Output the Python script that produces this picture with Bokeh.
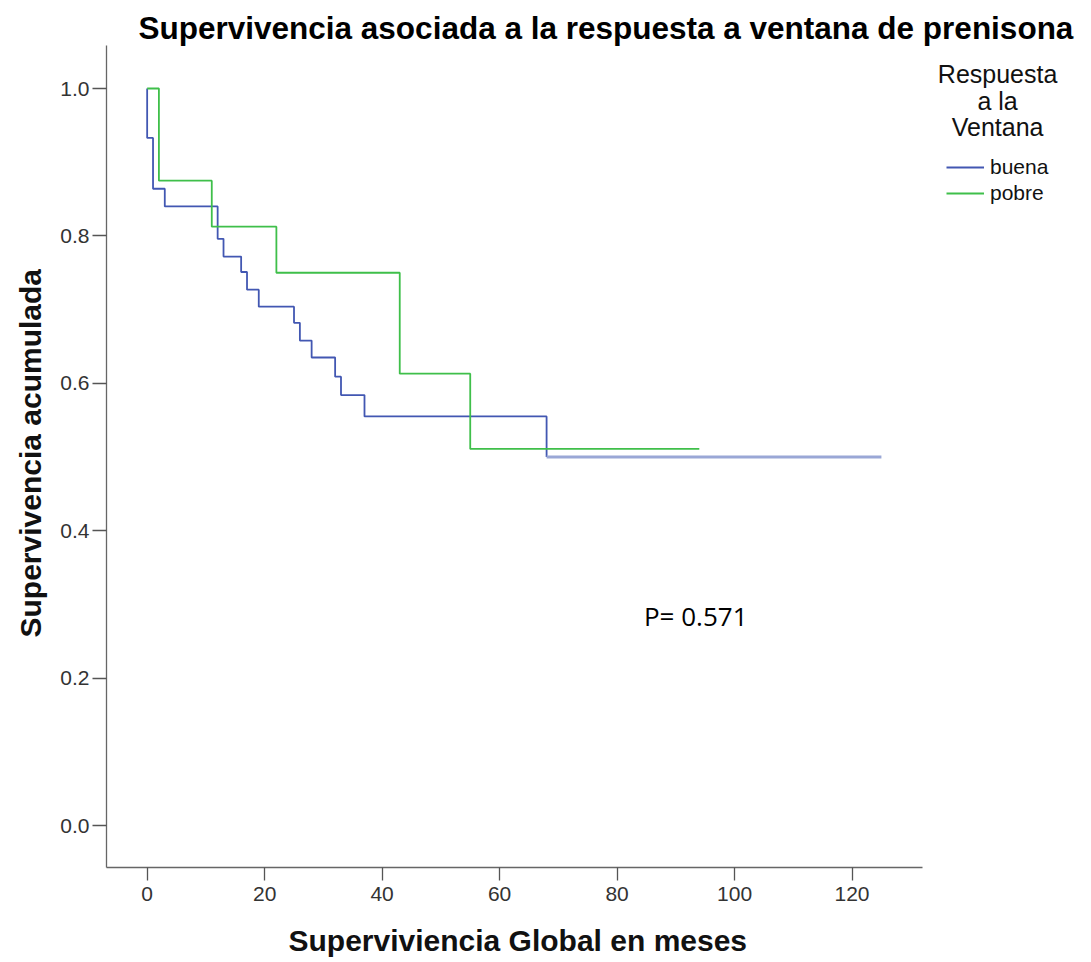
from bokeh.plotting import figure
from bokeh.models import Range1d, FixedTicker, NumeralTickFormatter, Label, Legend, LegendItem, Title
from bokeh.embed import file_html
from bokeh.resources import INLINE

# ---- data ----
buena_t = [0, 0, 1, 3, 12, 13, 16, 17, 19, 25, 26, 28, 32, 33, 37, 68, 125]
buena_s = [1.0, 0.933, 0.864, 0.840, 0.796, 0.772, 0.751, 0.727, 0.704, 0.682,
           0.658, 0.635, 0.609, 0.584, 0.555, 0.500, 0.500]
pobre_t = [0, 2, 11, 22, 43, 55, 94]
pobre_s = [1.0, 0.875, 0.8125, 0.750, 0.613, 0.511, 0.511]
x_ticks = [0, 20, 40, 60, 80, 100, 120]
y_ticks = [0.0, 0.2, 0.4, 0.6, 0.8, 1.0]
series_names = ["buena", "pobre"]
legend_title = ["Respuesta", "a la", "Ventana"]
title_text = "Supervivencia asociada a la respuesta a ventana de prenisona"
x_label = "Superviviencia Global en meses"
y_label = "Supervivencia acumulada"
p_text = "P= 0.571"

BLUE = "#4257b2"
BLUE_TAIL = "#9aa7d6"
GREEN = "#3fbf4a"
FONT = "Liberation Sans"

# layout in page pixels
W, H = 1088, 961
LEFT, BOTTOM = 105, 867
PX_PER_T = 5.88      # pixels per month
PX_PER_S = 737.0     # pixels per unit of survival
T0_PX = 145.7        # pixel x of t = 0
S0_PY = 825.0        # pixel y of S = 0


def tx(px):
    return (px - T0_PX) / PX_PER_T


def sy(py):
    return (S0_PY - py) / PX_PER_S


p = figure(width=W, height=H, output_backend="svg", toolbar_location=None,
           x_range=Range1d(tx(LEFT), tx(W)), y_range=Range1d(sy(BOTTOM), sy(0)),
           min_border_left=LEFT, min_border_right=0, min_border_top=0,
           min_border_bottom=H - BOTTOM)
p.outline_line_color = None
p.grid.visible = False
p.background_fill_color = "white"
p.border_fill_color = "white"

# axes (limited to the visible plot box)
p.xaxis.bounds = (tx(LEFT), tx(921.7))
p.yaxis.bounds = (sy(BOTTOM), sy(45))
p.xaxis.ticker = FixedTicker(ticks=x_ticks)
p.yaxis.ticker = FixedTicker(ticks=y_ticks)
p.yaxis.formatter = NumeralTickFormatter(format="0.0")
for ax in (p.xaxis, p.yaxis):
    ax.axis_line_color = "#666666"
    ax.axis_line_width = 1.3
    ax.major_tick_line_color = "#555555"
    ax.major_tick_line_width = 1.3
    ax.major_tick_in = 0
    ax.minor_tick_line_color = None
    ax.major_label_text_font = FONT
    ax.major_label_text_font_size = "21px"
    ax.major_label_text_color = "#333333"
p.xaxis.major_tick_out = 13
p.yaxis.major_tick_out = 14
p.xaxis.major_label_standoff = 6
p.yaxis.major_label_standoff = 3

# axis titles as side titles so they can be positioned along the axis
xt = Title(text=x_label, align="left", offset=287 - LEFT, standoff=0,
           vertical_align="top", padding=(0, 0, 20, 0),
           text_font=FONT, text_font_style="bold", text_font_size="30px",
           text_color="#111111")
p.add_layout(xt, "below")
yt = Title(text=y_label, align="left", offset=BOTTOM - 637, standoff=22,
           text_font=FONT, text_font_style="bold", text_font_size="30px",
           text_color="#111111")
p.add_layout(yt, "left")

# curves
r_b = p.step(buena_t[:-1], buena_s[:-1], mode="after", line_color=BLUE, line_width=1.8)
p.line(buena_t[-2:], buena_s[-2:], line_color=BLUE_TAIL, line_width=3)
r_g = p.step(pobre_t, pobre_s, mode="after", line_color=GREEN, line_width=1.8)

# legend
leg = Legend(items=[LegendItem(label=series_names[0], renderers=[r_b]),
                    LegendItem(label=series_names[1], renderers=[r_g])],
             location=(945 - LEFT, BOTTOM - 206), padding=0, margin=0, spacing=0,
             label_height=26, glyph_height=20, glyph_width=38, label_standoff=6,
             label_text_font=FONT, label_text_font_size="21px",
             label_text_color="#111111",
             background_fill_alpha=0, border_line_color=None)
p.add_layout(leg)

for txt, py in zip(legend_title, [73.3, 100.0, 126.5]):
    p.add_layout(Label(x=tx(997), y=sy(py), text=txt, text_align="center",
                       text_baseline="middle", text_font=FONT,
                       text_font_size="25px", text_color="#111111"))

# title
p.add_layout(Label(x=tx(137), y=sy(27), text=title_text, text_align="left",
                   text_baseline="middle", text_font=FONT, text_font_style="bold",
                   text_font_size="31.5px", text_color="#000000"))

# p-value
p.add_layout(Label(x=tx(643), y=sy(615.7), text=p_text, text_align="left",
                   text_baseline="middle", text_font="Open Sans",
                   text_font_size="26px", text_color="#000000"))

open("out.html", "w").write(file_html(p, INLINE))
